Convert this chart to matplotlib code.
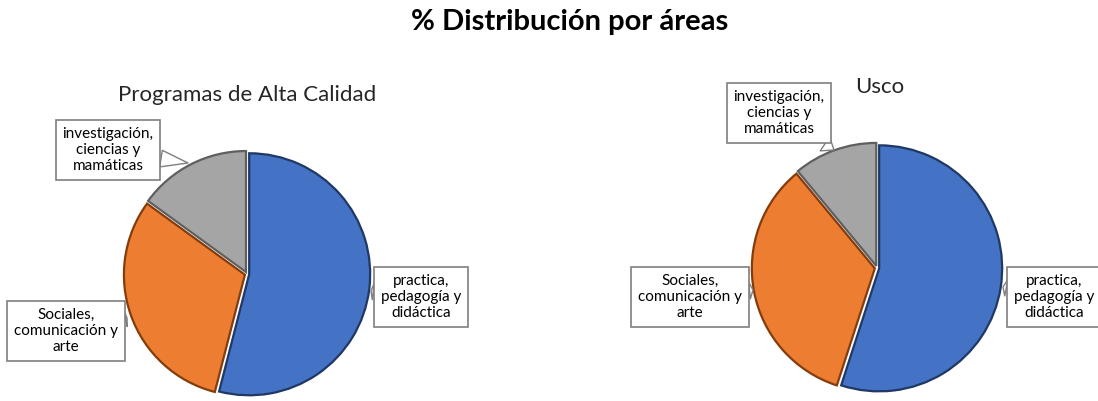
import matplotlib
matplotlib.use("Agg")
import matplotlib.pyplot as plt

plt.rcParams['font.family'] = ['Lato', 'DejaVu Sans']

# ---- data ----
categories = ["practica,\npedagogía y\ndidáctica",
              "Sociales,\ncomunicación y\narte",
              "investigación,\nciencias y\nmamáticas"]
alta_calidad = [54, 31, 15]
usco = [55, 34, 11]
chart_titles = ["Programas de Alta Calidad", "Usco"]
main_title = "% Distribución por áreas"

face_colors = ["#4472C4", "#ED7D31", "#A5A5A5"]
edge_colors = ["#1F3864", "#843C0C", "#5F5F5F"]

W, H = 1098, 401
fig = plt.figure(figsize=(W / 100, H / 100), dpi=100)
ax = fig.add_axes([0, 0, 1, 1])


def py(y):
    return H - y


pies = [
    dict(values=alta_calidad, center=(247, py(274)), radius=121,
         title=chart_titles[0], title_xy=(247, py(95)),
         boxes=[(421, py(297)), (66, py(331)), (108, py(150))],
         targets=[(371, py(291)), (127, py(318)), (188, py(163))]),
    dict(values=usco, center=(877, py(268)), radius=123,
         title=chart_titles[1], title_xy=(880, py(87)),
         boxes=[(1054, py(297)), (690, py(297)), (779, py(113))],
         targets=[(1003, py(287)), (753, py(290)), (834, py(150))]),
]

for p in pies:
    wedges, _ = ax.pie(p["values"], colors=face_colors, startangle=90,
                       counterclock=False, center=p["center"],
                       radius=p["radius"], explode=[2.2] * 3,
                       wedgeprops=dict(linewidth=1.6))
    for w, ec in zip(wedges, edge_colors):
        w.set_edgecolor(ec)
    ax.text(p["title_xy"][0], p["title_xy"][1], p["title"], ha="center",
            va="center", fontsize=16, color="#262626")
    for lab, bxy, txy in zip(categories, p["boxes"], p["targets"]):
        ax.annotate(lab, xy=txy, xytext=bxy, ha="center", va="center",
                    fontsize=11, color="black", linespacing=1.22,
                    bbox=dict(boxstyle="square,pad=0.45", fc="white",
                              ec="#7F7F7F", lw=1.2),
                    arrowprops=dict(arrowstyle="wedge,tail_width=1.1,shrink_factor=0.5",
                                    fc="white", ec="#7F7F7F", lw=1.0,
                                    shrinkA=0, shrinkB=0))

fig.text(570 / W, 1 - 22 / H, main_title, ha="center", va="center",
         fontsize=21, fontweight="bold", color="black")

ax.set_xlim(0, W)
ax.set_ylim(0, H)
ax.set_aspect("equal")
ax.axis("off")

fig.savefig("out.png", dpi=100)
